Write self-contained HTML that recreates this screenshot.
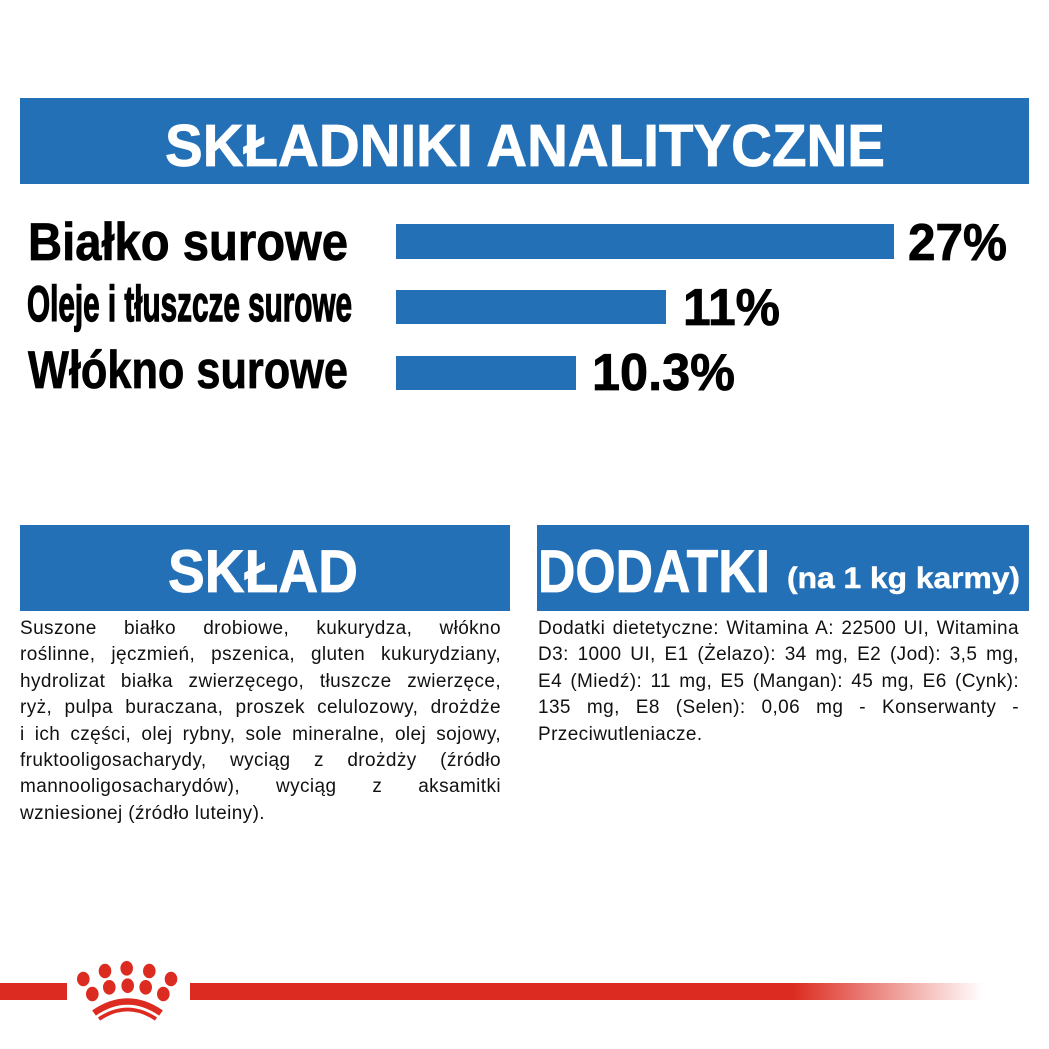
<!DOCTYPE html>
<html>
<head>
<meta charset="utf-8">
<style>
  html,body{margin:0;padding:0;background:#fff;}
  body{width:1049px;height:1049px;position:relative;overflow:hidden;}
  svg{position:absolute;left:0;top:0;}
  .body{position:absolute;top:616px;font-family:"Liberation Sans",sans-serif;font-size:19px;line-height:26.4px;color:#111;letter-spacing:0.4px;}
  .body div{text-align:justify;text-align-last:justify;}
  .body div.last{text-align:left;text-align-last:left;}
</style>
</head>
<body>
<svg width="1049" height="1049" viewBox="0 0 1049 1049" xmlns="http://www.w3.org/2000/svg">
  <defs>
    <linearGradient id="fade" gradientUnits="userSpaceOnUse" x1="190" y1="0" x2="983" y2="0">
      <stop offset="0" stop-color="#dc2b20" stop-opacity="1"/>
      <stop offset="0.76" stop-color="#dc2b20" stop-opacity="1"/>
      <stop offset="1" stop-color="#dc2b20" stop-opacity="0"/>
    </linearGradient>
  </defs>

  <!-- Top banner -->
  <rect x="20" y="98" width="1009" height="86" fill="#2470b7"/>
  <text x="165" y="166" font-family="Liberation Sans, sans-serif" font-weight="bold" font-size="59" fill="#fff" stroke="#fff" stroke-width="0.8" textLength="720" lengthAdjust="spacingAndGlyphs">SKŁADNIKI ANALITYCZNE</text>

  <!-- Labels -->
  <g font-family="Liberation Sans, sans-serif" font-weight="bold" fill="#000" stroke="#000">
    <text x="28" y="260" font-size="53" stroke-width="0.8" textLength="320" lengthAdjust="spacingAndGlyphs">Białko surowe</text>
    <text x="27" y="321" font-size="50" stroke-width="1.4" textLength="325" lengthAdjust="spacingAndGlyphs">Oleje i tłuszcze surowe</text>
    <text x="28" y="388" font-size="53" stroke-width="0.8" textLength="320" lengthAdjust="spacingAndGlyphs">Włókno surowe</text>

    <text x="908" y="260" font-size="52" stroke-width="0.8" textLength="99" lengthAdjust="spacingAndGlyphs">27%</text>
    <text x="683" y="325" font-size="52" stroke-width="0.8" textLength="97" lengthAdjust="spacingAndGlyphs">11%</text>
    <text x="592" y="390" font-size="52" stroke-width="0.8" textLength="143" lengthAdjust="spacingAndGlyphs">10.3%</text>
  </g>

  <!-- Bars -->
  <rect x="396" y="224" width="498" height="35" fill="#2470b7"/>
  <rect x="396" y="290" width="270" height="34" fill="#2470b7"/>
  <rect x="396" y="356" width="180" height="34" fill="#2470b7"/>

  <!-- Lower banners -->
  <rect x="20" y="525" width="490" height="86" fill="#2470b7"/>
  <text x="168" y="592" font-family="Liberation Sans, sans-serif" font-weight="bold" font-size="60" fill="#fff" stroke="#fff" stroke-width="0.8" textLength="190" lengthAdjust="spacingAndGlyphs">SKŁAD</text>

  <rect x="537" y="525" width="492" height="86" fill="#2470b7"/>
  <text x="538" y="592" font-family="Liberation Sans, sans-serif" font-weight="bold" font-size="60" fill="#fff" stroke="#fff" stroke-width="0.8" textLength="232" lengthAdjust="spacingAndGlyphs">DODATKI</text>
  <text x="787" y="588" font-family="Liberation Sans, sans-serif" font-weight="bold" font-size="30" fill="#fff" stroke="#fff" stroke-width="0.5" textLength="233" lengthAdjust="spacingAndGlyphs">(na 1 kg karmy)</text>

  <!-- Bottom red line -->
  <rect x="0" y="983" width="67" height="17" fill="#dc2b20"/>
  <rect x="190" y="983" width="793" height="17" fill="url(#fade)"/>

  <!-- Logo -->
  <g fill="#dc2b20">
    <ellipse cx="105" cy="971" rx="6.3" ry="7.3"/>
    <ellipse cx="126.7" cy="968.3" rx="6.3" ry="7.3"/>
    <ellipse cx="149.3" cy="971" rx="6.3" ry="7.3"/>
    <ellipse cx="83.3" cy="979" rx="6.3" ry="7.3"/>
    <ellipse cx="171" cy="979" rx="6.3" ry="7.3"/>
    <ellipse cx="92.3" cy="994" rx="6.3" ry="7.3"/>
    <ellipse cx="109.3" cy="987.3" rx="6.3" ry="7.3"/>
    <ellipse cx="127.7" cy="985.7" rx="6.3" ry="7.3"/>
    <ellipse cx="145.7" cy="987.3" rx="6.3" ry="7.3"/>
    <ellipse cx="163.3" cy="994" rx="6.3" ry="7.3"/>
  </g>
  <path d="M 94 1013 Q 127.5 990 161 1013" stroke="#dc2b20" stroke-width="6.5" fill="none"/>
  <path d="M 99 1019 Q 127.5 1000 156 1019" stroke="#dc2b20" stroke-width="3.8" fill="none"/>
</svg>

<div class="body" style="left:20px;width:481px;">
  <div>Suszone białko drobiowe, kukurydza, włókno</div>
  <div>roślinne, jęczmień, pszenica, gluten kukurydziany,</div>
  <div>hydrolizat białka zwierzęcego, tłuszcze zwierzęce,</div>
  <div>ryż, pulpa buraczana, proszek celulozowy, drożdże</div>
  <div>i ich części, olej rybny, sole mineralne, olej sojowy,</div>
  <div>fruktooligosacharydy, wyciąg z drożdży (źródło</div>
  <div>mannooligosacharydów), wyciąg z aksamitki</div>
  <div class="last">wzniesionej (źródło luteiny).</div>
</div>

<div class="body" style="left:538px;width:481px;">
  <div>Dodatki dietetyczne: Witamina A: 22500 UI, Witamina</div>
  <div>D3: 1000 UI, E1 (Żelazo): 34 mg, E2 (Jod): 3,5 mg,</div>
  <div>E4 (Miedź): 11 mg, E5 (Mangan): 45 mg, E6 (Cynk):</div>
  <div>135 mg, E8 (Selen): 0,06 mg - Konserwanty -</div>
  <div class="last">Przeciwutleniacze.</div>
</div>
</body>
</html>
